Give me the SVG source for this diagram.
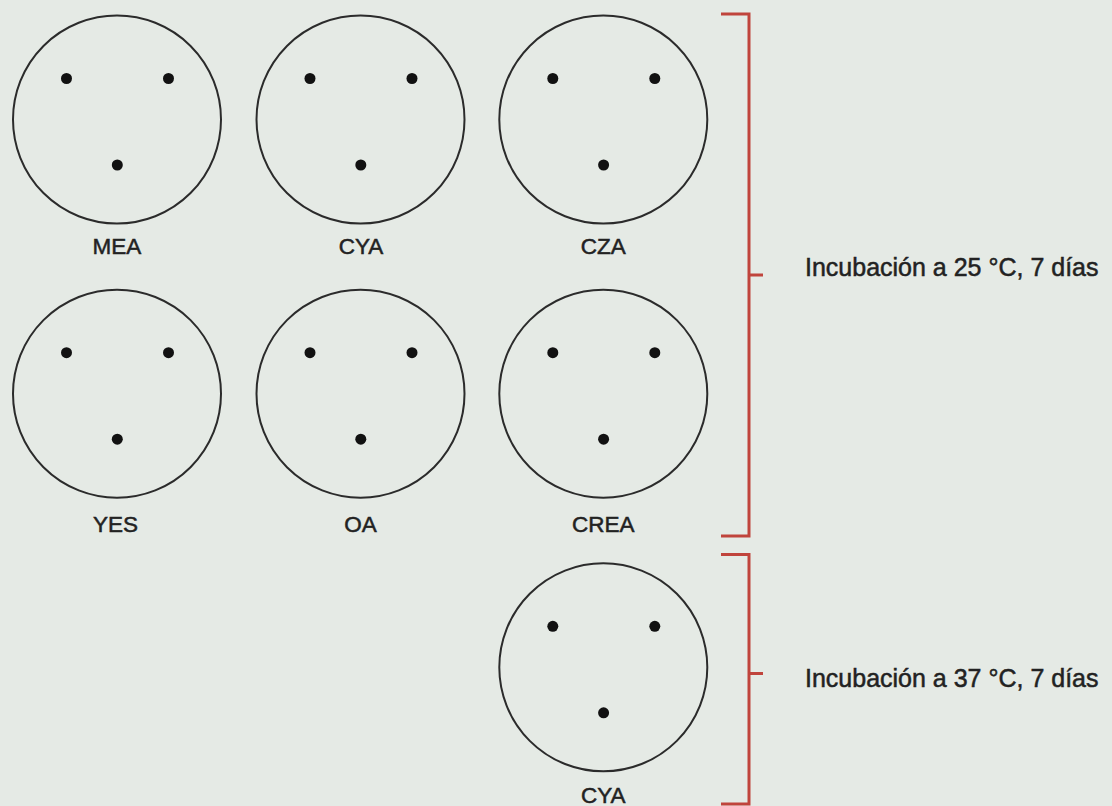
<svg xmlns="http://www.w3.org/2000/svg" width="1112" height="806" viewBox="0 0 1112 806">
<style>
.plate{fill:none;stroke:#2b2b2b;stroke-width:2}
.dot{fill:#111}
.lbl{font-family:"Liberation Sans",Arial,sans-serif;font-size:22.5px;fill:#222;stroke:#222;stroke-width:0.5;text-anchor:middle}
.note{font-family:"Liberation Sans",Arial,sans-serif;font-size:25px;fill:#222;stroke:#222;stroke-width:0.5}
.br{fill:none;stroke:#c0443c;stroke-width:3}
</style>
<defs>
<g id="dish">
<circle class="plate" cx="0" cy="0" r="104"/>
<circle class="dot" cx="-50.5" cy="-41" r="5.5"/>
<circle class="dot" cx="51.5" cy="-41" r="5.5"/>
<circle class="dot" cx="0.3" cy="45.5" r="5.5"/>
</g>
</defs>
<rect x="0" y="0" width="1112" height="806" fill="#e5eae5"/>
<g id="MEA"><use href="#dish" x="117" y="119.5"/><text class="lbl" x="117" y="253.5">MEA</text></g>
<g id="CYA25"><use href="#dish" x="360.5" y="119.5"/><text class="lbl" x="361" y="253.5">CYA</text></g>
<g id="CZA"><use href="#dish" x="603.3" y="119.5"/><text class="lbl" x="603.3" y="253.5">CZA</text></g>
<g id="YES"><use href="#dish" x="117" y="393.7"/><text class="lbl" x="115.5" y="531.5">YES</text></g>
<g id="OA"><use href="#dish" x="360.5" y="393.7"/><text class="lbl" x="360.5" y="531.5">OA</text></g>
<g id="CREA"><use href="#dish" x="603.3" y="393.7"/><text class="lbl" x="603.3" y="531.5">CREA</text></g>
<g id="CYA37"><use href="#dish" x="603.3" y="667.3"/><text class="lbl" x="603.3" y="802.5">CYA</text></g>
<g id="connectors">
<path class="br" d="M721,14 H749 V536 H721 M749,275 H763"/>
<path class="br" d="M721,554.5 H749 V804 H721 M749,673.5 H763"/>
</g>
<g id="label25"><text class="note" x="805" y="276">Incubación a 25 °C, 7 días</text></g>
<g id="label37"><text class="note" x="805" y="686.5">Incubación a 37 °C, 7 días</text></g>
</svg>
